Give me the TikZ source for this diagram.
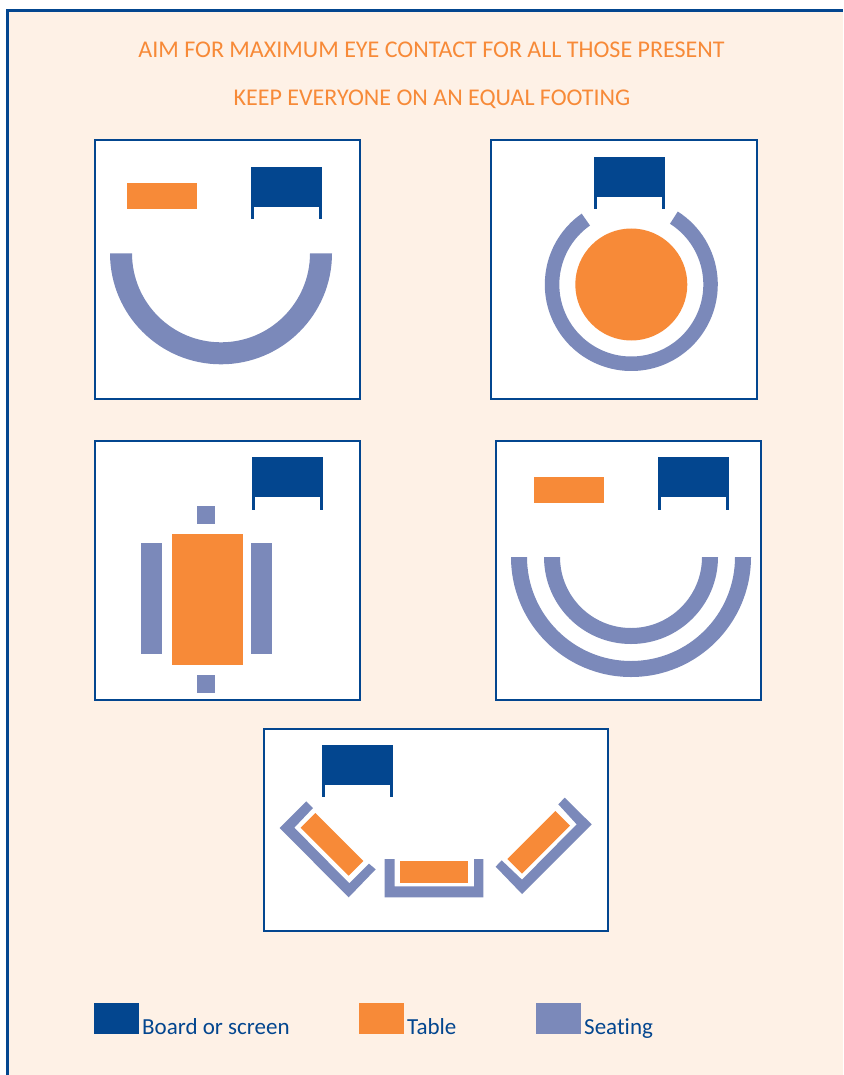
\documentclass[tikz,border=0pt]{standalone}
\usepackage{fontspec}
\setmainfont{Carlito}[Ligatures=NoCommon]
\definecolor{boardblue}{HTML}{03468F}
\definecolor{tableorange}{HTML}{F78A38}
\definecolor{seatblue}{HTML}{7B89BA}
\definecolor{pagebg}{HTML}{FEF1E6}
\tikzset{
  panel/.style={draw=boardblue,line width=2.2pt,fill=white},
  tablefill/.style={fill=tableorange},
  seatfill/.style={fill=seatblue},
  boardfill/.style={fill=boardblue},
  titletext/.style={text=tableorange,font=\fontsize{24}{26}\selectfont,anchor=base,inner sep=0pt},
  legendtext/.style={text=boardblue,font=\fontsize{23}{25}\selectfont,anchor=base west,inner sep=0pt}
}
\newcommand{\boardat}[2]{%
  \fill[boardfill] (#1,#2) rectangle ++(71,40);
  \fill[boardfill] (#1,#2) rectangle ++(3,52.5);
  \fill[boardfill] (#1+68,#2) rectangle ++(3,52.5);
}
\newcommand{\seatarc}[6]{%
  \fill[seatfill] ({#1+#3*cos(#5)},{#2+#3*sin(#5)}) arc[start angle=#5,end angle=#6,radius=#3]
    -- ({#1+#4*cos(#6)},{#2+#4*sin(#6)}) arc[start angle=#6,end angle=#5,radius=#4] -- cycle;
}
\begin{document}
\begin{tikzpicture}[x=1pt,y=-1pt]
\useasboundingbox (0,0) rectangle (843,1075);
\fill[white] (0,0) rectangle (843,1075);
\fill[pagebg] (7.3,10.6) rectangle (843,1075);
\draw[boardblue,line width=2.5pt] (7.3,1075) -- (7.3,10.6) -- (843,10.6);

\node[titletext] (title1) at (431.5,58) {AIM FOR MAXIMUM EYE CONTACT FOR ALL THOSE PRESENT};
\node[titletext] (title2) at (432,106) {KEEP EVERYONE ON AN EQUAL FOOTING};

% panel 1
\draw[panel] (95,140) rectangle (360,399);
\fill[tablefill] (127,183) rectangle (197,209);
\boardat{251.3}{166.7}
\seatarc{221}{253.3}{111}{89}{180}{0}

% panel 2
\draw[panel] (491,140) rectangle (757,399);
\boardat{593.7}{157}
\seatarc{631.3}{284.5}{86.5}{72}{235}{-57.5}
\fill[tablefill] (631.3,284.5) circle[radius=56];

% panel 3
\draw[panel] (95,441) rectangle (360,700);
\boardat{252.3}{457}
\fill[tablefill] (172.2,534) rectangle (243.2,665);
\fill[seatfill] (141,543) rectangle (162,654);
\fill[seatfill] (251,543) rectangle (272,654);
\fill[seatfill] (197,506) rectangle (215,524);
\fill[seatfill] (197,675) rectangle (215,693);

% panel 4
\draw[panel] (496,441) rectangle (761,700);
\fill[tablefill] (534,477) rectangle (604,503);
\boardat{658}{457}
\seatarc{631}{557}{120}{104}{180}{0}
\seatarc{631}{557}{87}{71}{180}{0}

% panel 5
\draw[panel] (264,729) rectangle (608,931);
\boardat{321.7}{744.7}
\begin{scope}[shift={(260,725)},x=0.33333pt,y=-0.33333pt]
  \fill[seatfill] (139,229) -- (59,309) -- (266,517) -- (347,433) -- (327,416) -- (268,475) -- (103,308) -- (159,249) -- cycle;
  \fill[tablefill] (166,264) -- (310,408) -- (266,452) -- (122,308) -- cycle;
  \fill[seatfill] (374,402) -- (404,402) -- (404,484) -- (642,484) -- (642,402) -- (670,402) -- (670,517) -- (374,517) -- cycle;
  \fill[tablefill] (420,408) rectangle (624,474);
  \fill[seatfill] (914,218) -- (995,298) -- (786,507) -- (707,425) -- (725,406) -- (786,464) -- (950,298) -- (895,238) -- cycle;
  \fill[tablefill] (886,258) -- (930,302) -- (786,446) -- (742,402) -- cycle;
\end{scope}

% legend
\fill[boardfill] (94,1003) rectangle (139,1034);
\node[legendtext] (lboard) at (142,1034) {Board or screen};
\fill[tablefill] (359,1003) rectangle (404,1034);
\node[legendtext] (ltable) at (407,1034) {Table};
\fill[seatfill] (536,1003) rectangle (581,1034);
\node[legendtext] (lseat) at (584,1034) {Seating};
\end{tikzpicture}
\end{document}
